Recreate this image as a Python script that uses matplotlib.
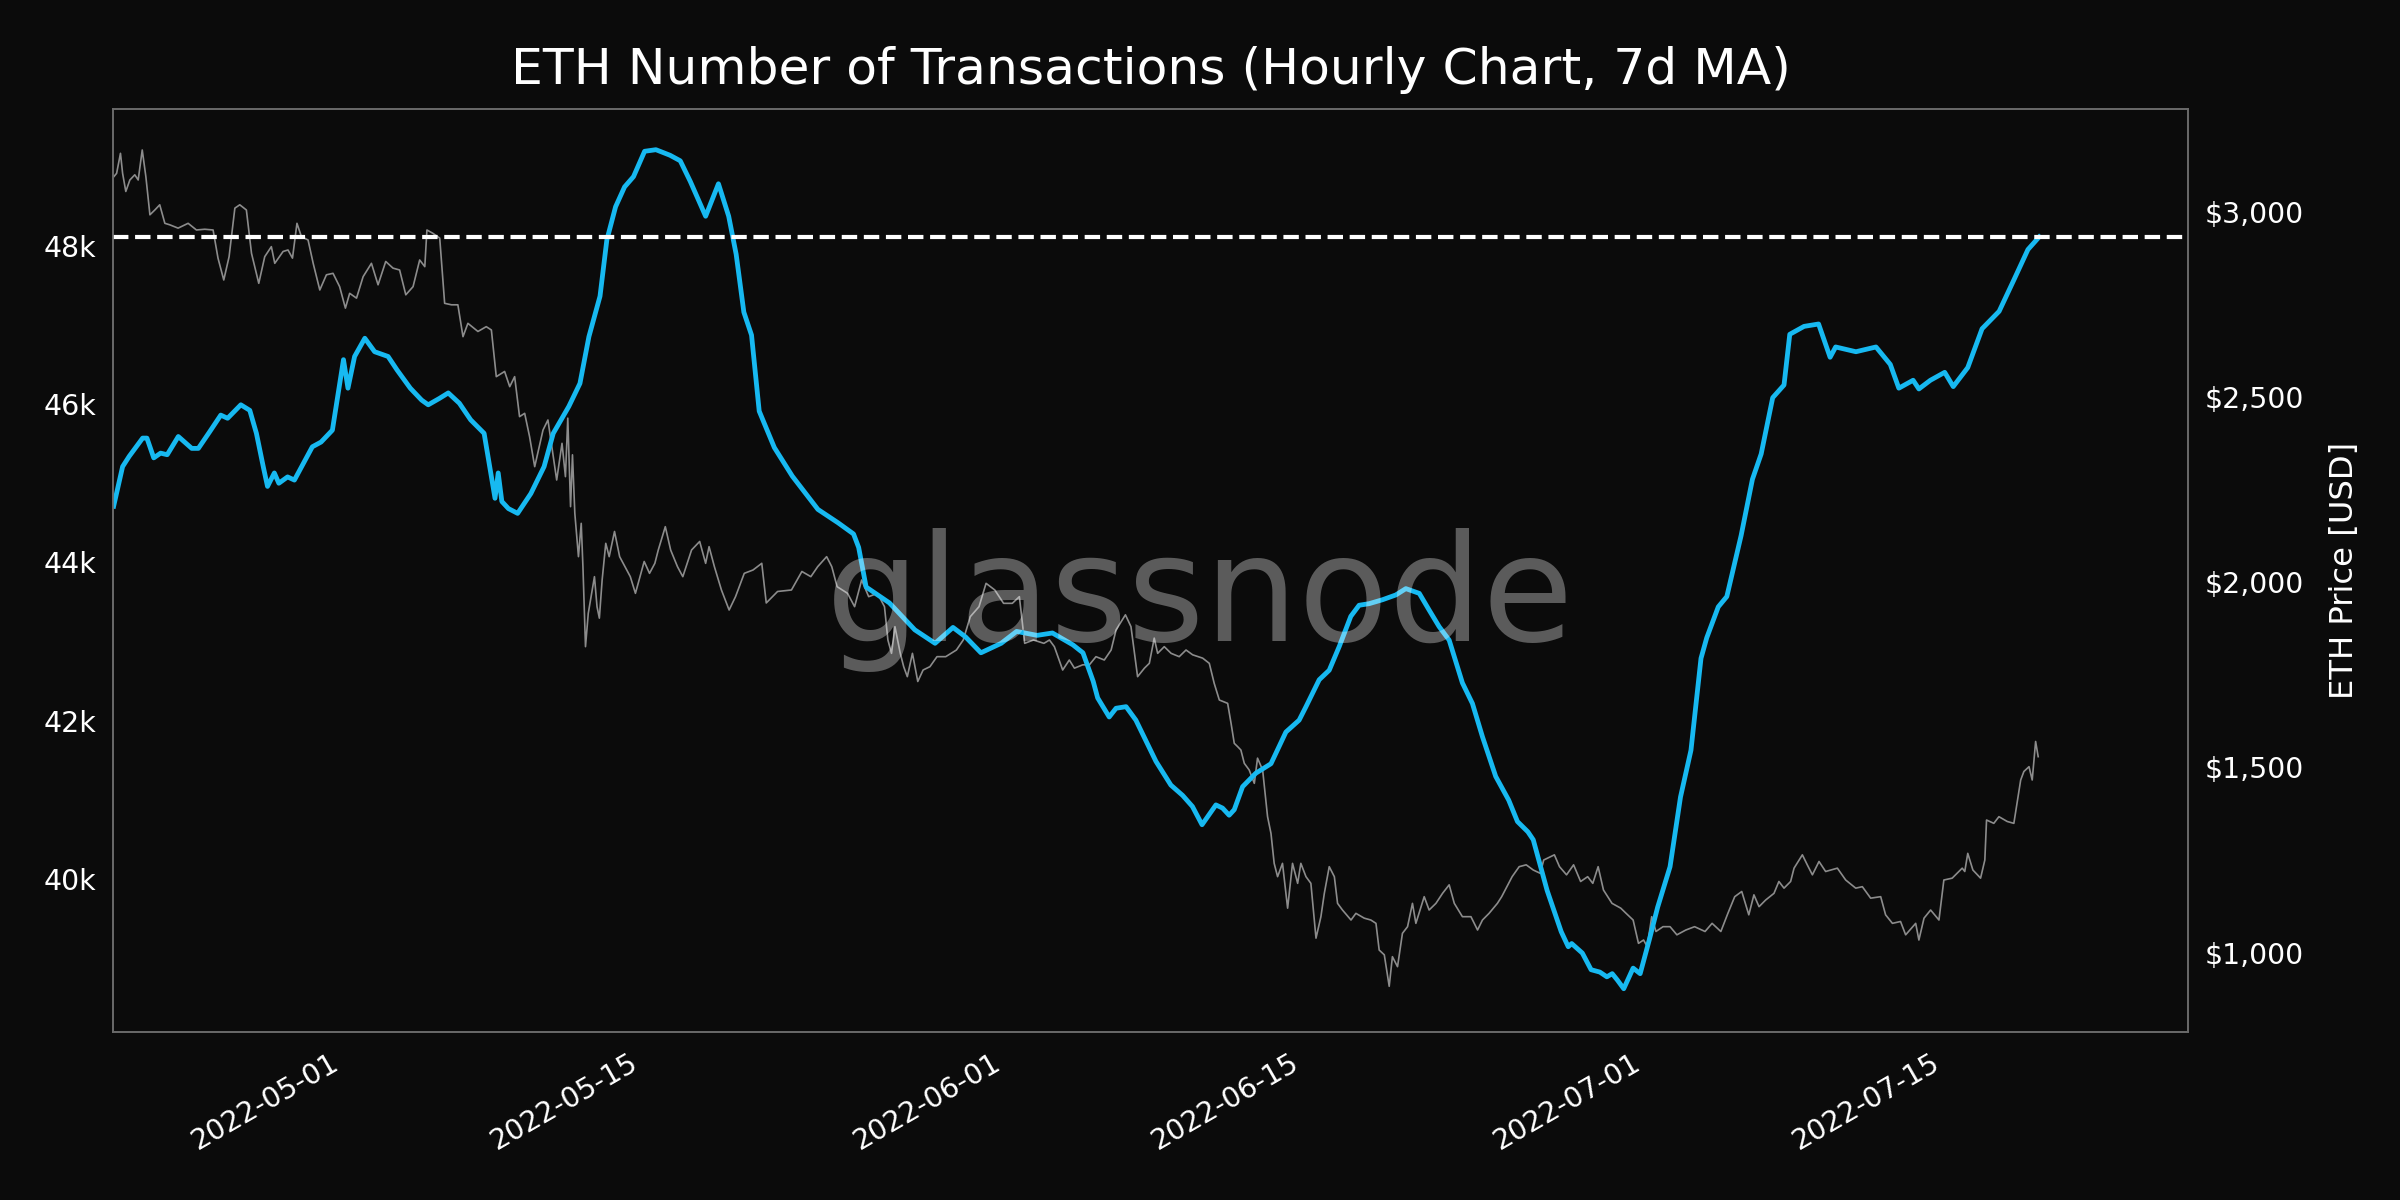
import numpy as np
import pandas as pd
import matplotlib
matplotlib.use("Agg")
import matplotlib.pyplot as plt
import matplotlib.dates as mdates
from matplotlib.ticker import FuncFormatter, MultipleLocator

# chart data (days counted from 2022-04-20 00:00)
start = pd.Timestamp("2022-04-20")

tx_days = [0.22, 0.64, 0.95, 1.58, 1.78, 2.10, 2.42, 2.73, 3.25, 3.88, 4.19, 4.72, 5.24, 5.56,
           6.18, 6.60, 6.91, 7.23, 7.43, 7.75, 7.96, 8.37, 8.69, 9.53, 9.94, 10.47, 10.99, 11.20,
           11.51, 11.99, 12.45, 13.08, 13.50, 14.12, 14.65, 14.96, 15.48, 15.90, 16.42, 16.95,
           17.58, 17.89, 18.09, 18.24, 18.41, 18.72, 19.15, 19.77, 20.39, 20.82, 21.55, 22.07,
           22.49, 23.01, 23.33, 23.74, 24.16, 24.58, 25.10, 25.63, 26.29, 26.77, 27.24, 27.96,
           28.56, 29.04, 29.39, 29.75, 30.11, 30.47, 31.18, 32.02, 33.22, 34.17, 34.89, 35.13,
           35.48, 36.57, 37.76, 38.71, 39.55, 40.14, 40.86, 41.81, 42.53, 43.49, 44.21, 45.17,
           45.64, 46.12, 46.33, 46.87, 47.19, 47.66, 48.12, 49.06, 49.76, 50.31, 50.77, 51.22,
           51.87, 52.18, 52.49, 52.73, 53.12, 53.74, 54.45, 55.15, 55.77, 56.09, 56.71, 57.18,
           57.65, 58.19, 58.58, 59.05, 59.68, 60.30, 60.77, 61.40, 61.86, 62.33, 62.80, 63.42,
           63.89, 64.36, 64.98, 65.59, 66.00, 66.49, 66.74, 67.39, 68.05, 68.38, 68.54, 69.04,
           69.45, 69.86, 70.19, 70.44, 70.68, 70.98, 71.42, 71.75, 72.17, 72.57, 73.15, 73.64,
           74.13, 74.60, 74.87, 75.41, 75.81, 76.48, 77.01, 77.42, 77.96, 78.49, 78.76, 79.43,
           80.11, 80.65, 80.91, 81.86, 82.80, 83.47, 83.87, 84.54, 84.81, 85.35, 86.02, 86.42,
           87.10, 87.77, 88.57, 89.25, 89.92, 90.45]
tx_k = [44.71, 45.21, 45.34, 45.57, 45.57, 45.32, 45.38, 45.36, 45.59, 45.44, 45.44, 45.65, 45.86,
        45.82, 45.99, 45.92, 45.63, 45.21, 44.96, 45.13, 45.00, 45.08, 45.04, 45.46, 45.52, 45.67,
        46.56, 46.20, 46.60, 46.83, 46.66, 46.60, 46.43, 46.20, 46.05, 45.99, 46.07, 46.14, 46.01,
        45.80, 45.63, 45.13, 44.81, 45.13, 44.77, 44.68, 44.62, 44.87, 45.21, 45.63, 45.97, 46.26,
        46.85, 47.36, 48.07, 48.49, 48.74, 48.87, 49.19, 49.21, 49.14, 49.07, 48.81, 48.37, 48.78,
        48.37, 47.89, 47.16, 46.87, 45.91, 45.45, 45.09, 44.67, 44.50, 44.36, 44.19, 43.69, 43.49,
        43.15, 42.98, 43.18, 43.06, 42.86, 42.98, 43.13, 43.08, 43.11, 42.96, 42.86, 42.50, 42.29,
        42.05, 42.16, 42.18, 42.01, 41.49, 41.19, 41.06, 40.92, 40.69, 40.94, 40.90, 40.81, 40.88,
        41.17, 41.34, 41.46, 41.86, 42.01, 42.18, 42.52, 42.64, 42.94, 43.32, 43.46, 43.48, 43.53,
        43.59, 43.67, 43.61, 43.40, 43.19, 43.02, 42.48, 42.22, 41.80, 41.30, 41.00, 40.73, 40.60,
        40.50, 39.86, 39.34, 39.15, 39.19, 39.07, 38.86, 38.83, 38.77, 38.81, 38.73, 38.62, 38.88,
        38.81, 39.23, 39.65, 40.16, 41.04, 41.63, 42.79, 43.05, 43.44, 43.57, 44.34, 45.05, 45.37,
        46.08, 46.24, 46.88, 46.98, 47.01, 46.59, 46.72, 46.66, 46.72, 46.50, 46.20, 46.30, 46.19,
        46.30, 46.40, 46.22, 46.46, 46.95, 47.17, 47.56, 47.95, 48.11]

px_days = [0.23, 0.36, 0.54, 0.64, 0.79, 0.98, 1.21, 1.37, 1.56, 1.73, 1.92, 2.15, 2.38, 2.62,
           2.85, 3.24, 3.71, 4.10, 4.49, 4.88, 5.11, 5.38, 5.63, 5.90, 6.13, 6.44, 6.68, 7.02,
           7.30, 7.61, 7.77, 8.16, 8.39, 8.60, 8.81, 9.02, 9.33, 9.57, 9.88, 10.19, 10.50, 10.81,
           11.08, 11.28, 11.60, 11.91, 12.30, 12.61, 12.97, 13.31, 13.62, 13.91, 14.25, 14.56,
           14.80, 14.90, 15.18, 15.50, 15.73, 16.05, 16.35, 16.59, 16.82, 17.29, 17.68, 17.92,
           18.15, 18.54, 18.78, 19.01, 19.24, 19.48, 19.71, 19.95, 20.34, 20.57, 20.80, 20.98,
           21.23, 21.39, 21.50, 21.63, 21.72, 21.83, 22.00, 22.13, 22.21, 22.33, 22.46, 22.59,
           22.75, 22.87, 22.98, 23.11, 23.28, 23.44, 23.69, 23.93, 24.18, 24.43, 24.67, 25.08,
           25.33, 25.58, 25.74, 26.07, 26.32, 26.64, 26.89, 27.30, 27.68, 27.96, 28.12, 28.37,
           28.70, 29.06, 29.36, 29.77, 30.18, 30.59, 30.80, 31.33, 31.98, 32.47, 32.89, 33.21,
           33.63, 33.87, 34.12, 34.61, 34.94, 35.27, 35.60, 36.01, 36.34, 36.50, 36.67, 36.83,
           37.08, 37.24, 37.41, 37.65, 37.90, 38.15, 38.47, 38.80, 39.21, 39.71, 40.03, 40.36,
           40.77, 41.10, 41.51, 41.92, 42.33, 42.66, 42.91, 43.32, 43.81, 44.07, 44.30, 44.69,
           45.00, 45.24, 45.63, 45.94, 46.25, 46.64, 46.96, 47.19, 47.63, 47.89, 48.20, 48.52,
           48.75, 48.98, 49.14, 49.45, 49.77, 50.15, 50.47, 50.78, 51.25, 51.56, 51.79, 52.03,
           52.42, 52.58, 52.73, 52.89, 53.04, 53.20, 53.43, 53.67, 53.82, 54.06, 54.29, 54.45,
           54.60, 54.76, 54.99, 55.23, 55.46, 55.70, 55.85, 56.09, 56.32, 56.56, 56.79, 56.95,
           57.18, 57.42, 57.57, 57.80, 58.20, 58.43, 58.82, 59.13, 59.37, 59.52, 59.76, 59.99,
           60.14, 60.38, 60.61, 60.85, 61.08, 61.24, 61.63, 61.86, 62.18, 62.49, 62.80, 63.04,
           63.42, 63.82, 64.13, 64.36, 64.67, 65.06, 65.26, 65.75, 66.08, 66.41, 66.74, 67.07,
           67.23, 67.73, 67.97, 68.30, 68.63, 68.96, 69.29, 69.53, 69.78, 70.03, 70.43, 70.84,
           71.09, 71.42, 71.67, 71.91, 72.08, 72.29, 72.49, 72.82, 73.15, 73.47, 73.89, 74.30,
           74.79, 75.12, 75.53, 75.86, 76.18, 76.51, 76.84, 77.08, 77.32, 77.63, 78.02, 78.25,
           78.49, 78.80, 78.96, 79.35, 79.58, 79.82, 80.13, 80.44, 80.99, 81.38, 81.85, 82.16,
           82.55, 83.02, 83.25, 83.57, 83.95, 84.19, 84.66, 84.81, 85.05, 85.36, 85.75, 85.98,
           86.37, 86.84, 86.96, 87.10, 87.34, 87.70, 87.90, 87.98, 88.32, 88.56, 88.95, 89.26,
           89.42, 89.58, 89.73, 89.97, 90.12, 90.28, 90.40]
px_usd = [3095, 3104, 3158, 3104, 3055, 3086, 3100, 3086, 3167, 3095, 2992, 3005, 3019, 2969,
          2965, 2956, 2969, 2951, 2953, 2951, 2875, 2816, 2879, 3010, 3019, 3005, 2888, 2807,
          2879, 2906, 2861, 2893, 2897, 2875, 2969, 2933, 2924, 2861, 2789, 2830, 2834, 2798,
          2740, 2780, 2767, 2825, 2861, 2803, 2866, 2848, 2843, 2776, 2798, 2870, 2852, 2951,
          2942, 2929, 2753, 2749, 2749, 2663, 2699, 2677, 2690, 2681, 2555, 2569, 2528, 2555,
          2447, 2456, 2393, 2312, 2411, 2438, 2348, 2276, 2375, 2285, 2443, 2204, 2344, 2186,
          2069, 2159, 2042, 1826, 1916, 1961, 2015, 1934, 1903, 2006, 2105, 2069, 2137, 2069,
          2042, 2015, 1970, 2056, 2024, 2051, 2087, 2150, 2087, 2042, 2015, 2087, 2110, 2051,
          2096, 2042, 1979, 1925, 1961, 2024, 2033, 2051, 1944, 1975, 1979, 2029, 2015, 2042,
          2069, 2042, 1988, 1970, 1934, 2006, 1961, 1970, 1934, 1844, 1808, 1880, 1808, 1772,
          1745, 1808, 1732, 1763, 1772, 1799, 1799, 1817, 1844, 1907, 1934, 1997, 1979, 1943,
          1943, 1961, 1835, 1844, 1835, 1844, 1826, 1763, 1790, 1768, 1777, 1777, 1799, 1790,
          1817, 1871, 1912, 1880, 1745, 1768, 1781, 1849, 1808, 1826, 1808, 1799, 1817, 1804,
          1795, 1781, 1727, 1682, 1673, 1619, 1565, 1556, 1547, 1511, 1493, 1457, 1525, 1493,
          1367, 1322, 1241, 1205, 1241, 1120, 1241, 1187, 1241, 1205, 1187, 1039, 1097, 1160,
          1232, 1205, 1133, 1115, 1088, 1106, 1093, 1088, 1079, 1007, 994, 909, 989, 962,
          1052, 1070, 1133, 1079, 1151, 1115, 1133, 1160, 1183, 1133, 1097, 1097, 1061, 1088,
          1106, 1133, 1151, 1205, 1232, 1237, 1223, 1214, 1250, 1264, 1232, 1210, 1237, 1192,
          1205, 1187, 1232, 1169, 1133, 1120, 1106, 1088, 1025, 1034, 1016, 1097, 1057, 1070,
          1070, 1048, 1061, 1070, 1057, 1079, 1057, 1106, 1151, 1165, 1102, 1156, 1124, 1142,
          1160, 1192, 1174, 1192, 1228, 1264, 1237, 1210, 1246, 1219, 1228, 1196, 1174, 1178,
          1147, 1151, 1102, 1079, 1084, 1048, 1079, 1034, 1093, 1115, 1088, 1196, 1201, 1228,
          1219, 1268, 1223, 1201, 1250, 1358, 1349, 1367, 1354, 1349, 1408, 1466, 1489, 1502,
          1466, 1570, 1529]

bg = "#0b0b0b"
line_blue = "#17b9f1"

tx_dates = start + pd.to_timedelta(tx_days, unit="D")
px_dates = start + pd.to_timedelta(px_days, unit="D")
tx_vals = np.array(tx_k) * 1000

fig, ax1 = plt.subplots(figsize=(16, 8), dpi=150)
fig.patch.set_facecolor(bg)
fig.subplots_adjust(left=113 / 2400, right=2188 / 2400, top=1 - 108.5 / 1200, bottom=1 - 1031.5 / 1200)

ax2 = ax1.twinx()
ax1.set_zorder(ax2.get_zorder() + 1)
ax1.patch.set_visible(False)
ax2.set_facecolor(bg)

# price on the right axis
ax2.plot(px_dates, px_usd, color="#8c8c8c", lw=0.8)

# transactions on the left axis
ax1.plot(tx_dates, tx_vals, color=line_blue, lw=2.3)
ax1.axhline(tx_vals[-1], color="white", ls="--", lw=2)

ax1.set_xlim(start + pd.Timedelta(days=0.19), start + pd.Timedelta(days=97.42))
ax1.set_ylim(38080, 49730)
ax2.set_ylim(787, 3279)

ax1.yaxis.set_major_locator(MultipleLocator(2000))
ax1.yaxis.set_major_formatter(FuncFormatter(lambda v, p: f"{v / 1000:.0f}k"))
ax2.yaxis.set_major_locator(MultipleLocator(500))
ax2.yaxis.set_major_formatter(FuncFormatter(lambda v, p: f"${v:,.0f}"))

ax1.xaxis.set_major_locator(mdates.DayLocator(bymonthday=[1, 15]))
ax1.xaxis.set_major_formatter(mdates.DateFormatter("%Y-%m-%d"))
for lbl in ax1.get_xticklabels():
    lbl.set_rotation(30)
    lbl.set_ha("right")

for ax in (ax1, ax2):
    ax.tick_params(colors="white", labelsize=13.6, length=0, pad=8)
    for sp in ax.spines.values():
        sp.set_color("#6a6a6a")

ax2.set_ylabel("ETH Price [USD]", color="white", fontsize=15.5, labelpad=12)
ax1.set_title("ETH Number of Transactions (Hourly Chart, 7d MA)", color="white", fontsize=24.2, pad=12)

fig.text(0.5, 0.5, "glassnode", fontsize=71, color="white", alpha=0.33,
         ha="center", va="center", zorder=10)

fig.savefig("out.png", facecolor=bg)
